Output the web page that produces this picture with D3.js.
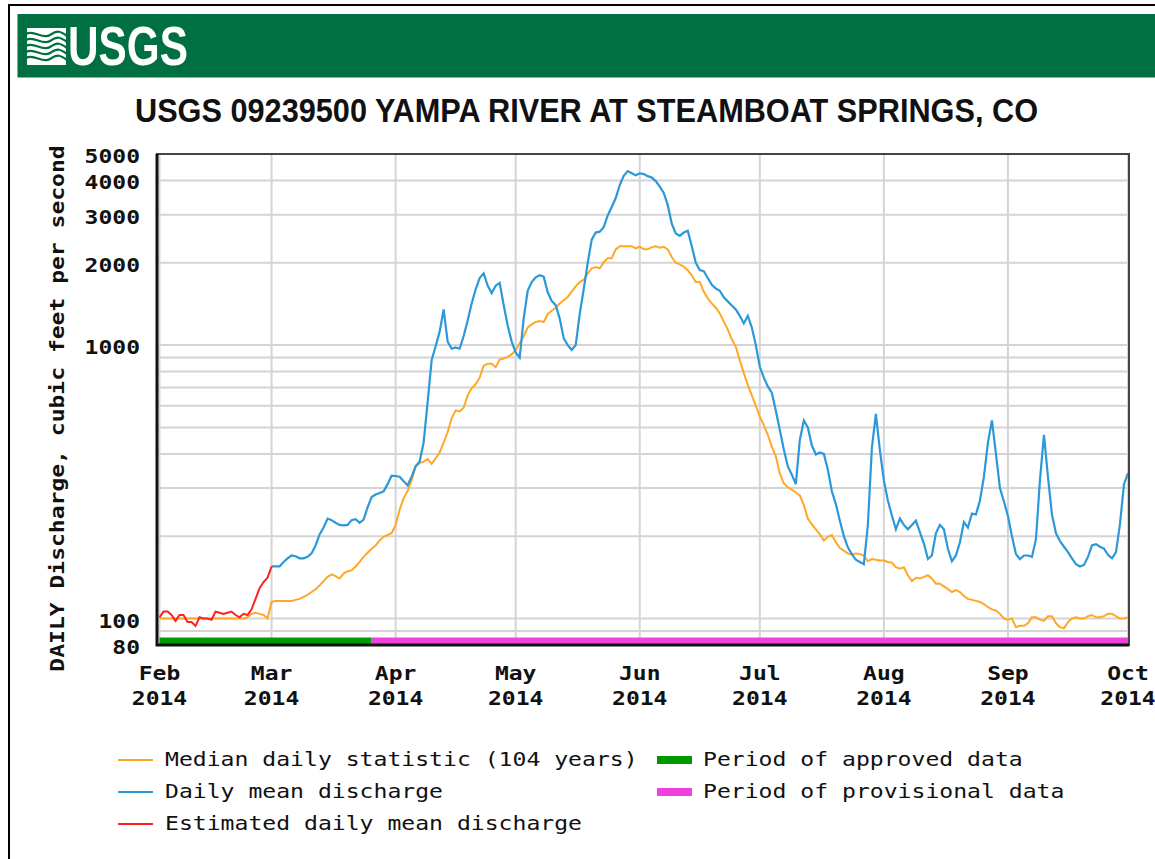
<!DOCTYPE html>
<html><head><meta charset="utf-8">
<script src="https://cdn.jsdelivr.net/npm/d3@7"></script>
<style>html,body{margin:0;padding:0;background:#fff;}svg{display:block;}</style>
</head><body>
<script>
// ---------------- DATA ----------------
const startDate = "2014-02-01";
const endDate = "2014-10-01";
const monthLabels = ["Feb","Mar","Apr","May","Jun","Jul","Aug","Sep","Oct"];
const yearLabel = "2014";
const yTickLabels = [80, 100, 1000, 2000, 3000, 4000, 5000];
const yGridValues = [90,100,200,300,400,500,600,700,800,900,1000,2000,3000,4000];
// Estimated daily mean discharge, Feb 1 - Feb 28
const estimatedDischarge = [101,106,106,103,98,103,103,97,97,94,101,100,100,99,106,105,104,105,106,103,101,104,103,108,118,129,136,141];
// Daily mean discharge, Mar 1 - Oct 1
const dailyMeanDischarge = [
 155,155,155,161,166,170,169,166,166,168,173,185,
 203,215,232,229,224,220,219,220,229,231,224,230,
 255,278,284,288,292,310,333,332,330,318,307,330,
 360,375,440,620,880,990,1120,1350,1030,970,980,970,1080,1230,1420,1600,1760,1830,
 1650,1550,1650,1690,1400,1180,1030,940,900,
 1250,1580,1700,1770,1800,1780,1560,1450,1400,1250,1060,1000,960,1000,
 1300,1600,2000,2430,2580,2600,2700,2980,3200,3450,3850,4160,4330,
 4250,4180,4250,4220,4150,4100,3980,3800,3600,3250,2780,2560,2510,
 2580,2620,2300,2000,1880,1865,1760,1660,1610,1580,1495,1445,1395,1350,1280,1200,1280,1160,1000,
 833,760,706,670,575,489,415,360,336,310,450,
 530,500,430,398,405,400,350,292,262,228,200,182,172,164,161,158,
 220,420,560,413,320,270,238,212,232,220,212,220,228,207,188,165,170,205,220,212,180,162,170,
 190,225,215,242,240,270,330,440,530,400,300,268,237,200,172,165,170,170,168,195,
 321,470,330,240,205,192,183,175,166,158,155,157,168,185,187,183,180,171,166,175,222,310,340
];
// Median daily statistic (104 years), Feb 1 - Oct 1
const medianDaily = [
 100,100,100,100,100,100,100,100,100,100,100,100,100,100,100,100,100,100,100,100,100,100,
 101,104,105,104,103,100,
 115,116,116,116,116,116,117,118,120,122,125,128,
 132,137,142,145,143,140,146,149,150,155,161,168,
 174,180,185,193,199,202,205,220,250,275,293,320,
 360,370,375,383,368,385,405,440,480,540,577,572,590,655,695,720,760,840,
 855,855,830,885,893,905,925,960,1015,1075,1160,1190,1215,1225,1215,1300,1335,1370,1420,1460,
 1500,1570,1640,1700,1735,1830,1910,1930,1908,2010,2080,2080,2240,2300,2300,2300,2300,2260,2290,2240,
 2240,2283,2300,2270,2290,2240,2100,2000,1975,1935,1880,1800,1700,1700,1570,1480,1420,1370,1306,1220,
 1140,1050,985,881,790,715,655,600,547,510,470,425,392,339,312,302,296,289,282,260,
 232,221,212,203,193,199,202,190,181,177,173,171,173,172,170,162,165,164,163,163,
 161,160,154,152,154,144,137,141,140,142,144,140,134,134,131,128,125,127,125,121,
 118,117,116,115,113,110,108,107,104,100,99,100,93,94,94,96,101,101,99,98,
 102,102,96,93,92,97,100,101,100,100,102,103,101,101,102,104,104,102,100,100,101
];
const approvedPeriod = ["2014-02-01","2014-03-26"];
const provisionalPeriod = ["2014-03-26","2014-10-01"];
const titleText = "USGS 09239500 YAMPA RIVER AT STEAMBOAT SPRINGS, CO";
const yAxisTitle = "DAILY Discharge, cubic feet per second";
const legendLines = [
  {label:"Median daily statistic (104 years)", key:"median"},
  {label:"Daily mean discharge", key:"mean"},
  {label:"Estimated daily mean discharge", key:"est"}
];
const legendBars = [
  {label:"Period of approved data", key:"approved"},
  {label:"Period of provisional data", key:"provisional"}
];

// ---------------- STYLE ----------------
const colors = {median:"#FFA826", mean:"#2B98DA", est:"#FF2020", approved:"#009A00", provisional:"#F040E0", grid:"#D4D4D4", banner:"#006F41"};
const mono = "'DejaVu Sans Mono','Liberation Mono',monospace";
const CW = 13.85; // char advance for mono texts

const W = 1155, H = 859;
const svg = d3.select("body").append("svg").attr("width", W).attr("height", H);

const parse = d3.timeParse("%Y-%m-%d");
const t0 = parse(startDate), t1 = parse(endDate);
const day = i => d3.timeDay.offset(t0, i);

const plot = {left:157, right:1129, top:154, bottom:645};
const x = d3.scaleTime().domain([t0, t1]).range([159.5, 1128]);
const y = d3.scaleLog().domain([80, 5000]).range([plot.bottom, plot.top]);

// outer frame
svg.append("rect").attr("x",9).attr("y",5).attr("width",W+20).attr("height",H+20)
  .attr("fill","none").attr("stroke","#000").attr("stroke-width",2);

// banner
svg.append("rect").attr("x",17.5).attr("y",14).attr("width",W).attr("height",63.5).attr("fill",colors.banner);
// logo waves
const logo = svg.append("g");
logo.append("path").attr("d","M27,28 L45,28 L66,50 L66,65 L27,65 Z").attr("fill","#fff");
logo.append("path").attr("d","M27,28 L66,28 L66,50 Z").attr("fill","#fff");
const waves = [34,40,46,52,58];
waves.forEach((wy,i)=>{
  logo.append("path")
    .attr("d",`M26,${wy} C34,${wy-5} 42,${wy+6} 50,${wy+1} S60,${wy-3} 67,${wy+2}`)
    .attr("fill","none").attr("stroke",colors.banner).attr("stroke-width",2.2);
});
svg.append("text").attr("x",68).attr("y",65).attr("textLength",120).attr("lengthAdjust","spacingAndGlyphs")
  .attr("font-family","'Liberation Sans',Arial,sans-serif").attr("font-weight","bold").attr("font-size",55)
  .attr("fill","#fff").text("USGS");

// title
svg.append("text").attr("x",135).attr("y",122).attr("textLength",903).attr("lengthAdjust","spacingAndGlyphs")
  .attr("font-family","'Liberation Sans',Arial,sans-serif").attr("font-weight","bold").attr("font-size",34)
  .attr("fill","#111").text(titleText);

// grid
const grid = svg.append("g");
grid.selectAll("line.h").data(yGridValues).join("line")
  .attr("x1",plot.left).attr("x2",plot.right).attr("y1",d=>y(d)).attr("y2",d=>y(d))
  .attr("stroke",colors.grid).attr("stroke-width",2);
const monthTicks = d3.timeMonth.range(t0, d3.timeDay.offset(t1,1));
grid.selectAll("line.v").data(monthTicks).join("line")
  .attr("x1",d=>x(d)).attr("x2",d=>x(d)).attr("y1",plot.top).attr("y2",plot.bottom)
  .attr("stroke",colors.grid).attr("stroke-width",2);

// clip
svg.append("clipPath").attr("id","clip").append("rect")
  .attr("x",plot.left).attr("y",plot.top).attr("width",plot.right-plot.left).attr("height",plot.bottom-plot.top);
const g = svg.append("g").attr("clip-path","url(#clip)");

// approval bars
const barY = 637.5, barH = 6.5;
[[approvedPeriod,colors.approved],[provisionalPeriod,colors.provisional]].forEach(([p,c])=>{
  const xa = Math.max(plot.left, x(parse(p[0]))), xb = Math.min(plot.right, x(parse(p[1])));
  g.append("rect").attr("x",xa).attr("y",barY).attr("width",xb-xa).attr("height",barH).attr("fill",c);
});

const line = d3.line().x(d=>x(d.t)).y(d=>y(d.v));
const medData = medianDaily.map((v,i)=>({t:day(i), v}));
const estData = estimatedDischarge.map((v,i)=>({t:day(i), v}));
const meanOffset = estimatedDischarge.length;
const meanData = dailyMeanDischarge.map((v,i)=>({t:day(i+meanOffset), v}));

g.append("path").datum(medData).attr("d",line).attr("fill","none").attr("stroke",colors.median).attr("stroke-width",2);
g.append("path").datum(meanData).attr("d",line).attr("fill","none").attr("stroke",colors.mean).attr("stroke-width",2.2);
g.append("path").datum(estData.concat([meanData[0]])).attr("d",line).attr("fill","none").attr("stroke",colors.est).attr("stroke-width",2);

// frame
svg.append("rect").attr("x",plot.left).attr("y",plot.top).attr("width",plot.right-plot.left).attr("height",plot.bottom-plot.top)
  .attr("fill","none").attr("stroke","#444").attr("stroke-width",2);
svg.append("path").attr("d",`M${plot.left},${plot.top} V${plot.bottom} H${plot.right}`)
  .attr("fill","none").attr("stroke","#111").attr("stroke-width",3);

// y tick labels
svg.selectAll("text.ytick").data(yTickLabels).join("text")
  .attr("x",140).attr("y",d=>y(d)+9).attr("text-anchor","end")
  .attr("textLength",d=>String(d).length*CW).attr("lengthAdjust","spacingAndGlyphs")
  .attr("font-family",mono).attr("font-weight","bold").attr("font-size",19).attr("fill","#111")
  .text(d=>d);

// y axis title
svg.append("text").attr("transform",`translate(64,${(145+672)/2}) rotate(-90)`).attr("text-anchor","middle")
  .attr("textLength",yAxisTitle.length*CW).attr("lengthAdjust","spacingAndGlyphs")
  .attr("font-family",mono).attr("font-weight","bold").attr("font-size",19).attr("fill","#111")
  .text(yAxisTitle);

// x tick labels
const xl = svg.append("g");
monthTicks.forEach((m,i)=>{
  xl.append("text").attr("x",x(m)).attr("y",680).attr("text-anchor","middle")
    .attr("textLength",monthLabels[i].length*CW).attr("lengthAdjust","spacingAndGlyphs")
    .attr("font-family",mono).attr("font-weight","bold").attr("font-size",19).attr("fill","#111").text(monthLabels[i]);
  xl.append("text").attr("x",x(m)).attr("y",705).attr("text-anchor","middle")
    .attr("textLength",yearLabel.length*CW).attr("lengthAdjust","spacingAndGlyphs")
    .attr("font-family",mono).attr("font-weight","bold").attr("font-size",19).attr("fill","#111").text(yearLabel);
});

// legend
const lg = svg.append("g");
const rowY = [760, 792, 824];
legendLines.forEach((e,i)=>{
  lg.append("line").attr("x1",118).attr("x2",153).attr("y1",rowY[i]).attr("y2",rowY[i])
    .attr("stroke",colors[e.key]).attr("stroke-width",2);
  lg.append("text").attr("x",165).attr("y",rowY[i]+6)
    .attr("textLength",e.label.length*13.9).attr("lengthAdjust","spacingAndGlyphs")
    .attr("font-family",mono).attr("font-size",19).attr("fill","#111").text(e.label);
});
legendBars.forEach((e,i)=>{
  lg.append("rect").attr("x",657).attr("y",rowY[i]-4).attr("width",35).attr("height",8).attr("fill",colors[e.key]);
  lg.append("text").attr("x",703).attr("y",rowY[i]+6)
    .attr("textLength",e.label.length*13.9).attr("lengthAdjust","spacingAndGlyphs")
    .attr("font-family",mono).attr("font-size",19).attr("fill","#111").text(e.label);
});
</script>
</body></html>
